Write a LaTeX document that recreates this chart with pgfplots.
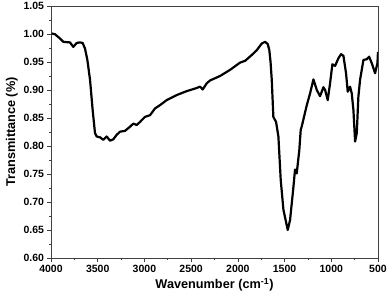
\documentclass[border=0pt]{standalone}
\usepackage{pgfplots}
\pgfplotsset{compat=1.18}
\usepackage{fontspec}
\setmainfont{Liberation Sans}
\begin{document}
\begin{tikzpicture}
\begin{axis}[
  scale only axis,
  width=327pt, height=252pt,
  x dir=reverse,
  xmin=500, xmax=4000,
  ymin=0.60, ymax=1.05,
  xtick={500,1000,...,4000},
  ytick={0.60,0.65,...,1.05},
  minor x tick num=1,
  minor y tick num=1,
  tick align=outside,
  tick pos=left,
  major tick length=3.5pt,
  minor tick length=2pt,
  axis line style={line width=0.6pt, black!75},
  tick style={line width=0.6pt, black!75},
  /pgf/number format/assume math mode=true,
  yticklabel={\pgfmathprintnumber[fixed,fixed zerofill,precision=2]{\tick}},
  xticklabel={\pgfmathprintnumber[fixed,precision=0,1000 sep={}]{\tick}},
  tick label style={font=\fontsize{10.5}{12}\selectfont\bfseries},
  label style={font=\fontsize{12.7}{15}\selectfont\bfseries},
  xlabel={Wavenumber (cm\textsuperscript{-1})},
  ylabel={Transmittance (\%)},
  xlabel style={yshift=1pt},
  ylabel style={yshift=-1pt},
]
\addplot[black, line width=2.2pt, line join=round] coordinates {
(3993,1.001) (3957,0.9995) (3904,0.992) (3868,0.986) (3797,0.985) (3761,0.977)
(3725,0.984) (3690,0.985) (3661,0.984) (3636,0.974) (3611,0.954) (3582,0.918)
(3554,0.864) (3529,0.823) (3511,0.817) (3475,0.8155) (3440,0.811) (3404,0.817)
(3368,0.8095) (3333,0.812) (3297,0.820) (3261,0.8256) (3208,0.827) (3154,0.8345)
(3119,0.840) (3083,0.8375) (3047,0.843) (2994,0.852) (2940,0.855) (2887,0.867)
(2833,0.873) (2761,0.882) (2654,0.891) (2547,0.898) (2450,0.903) (2405,0.906)
(2376,0.901) (2333,0.912) (2298,0.917) (2191,0.925) (2083,0.936) (1976,0.949)
(1923,0.952) (1851,0.9625) (1798,0.971) (1744,0.983) (1709,0.986) (1680,0.982)
(1663,0.971) (1650,0.950) (1637,0.918) (1620,0.852) (1591,0.843) (1566,0.817)
(1541,0.739) (1512,0.686) (1466,0.650) (1441,0.668) (1405,0.727) (1388,0.758)
(1370,0.751) (1342,0.793) (1327,0.829) (1316,0.835) (1262,0.873) (1227,0.894)
(1191,0.919) (1155,0.900) (1120,0.889) (1084,0.905) (1066,0.900) (1038,0.882)
(1013,0.912) (988,0.946) (959,0.943) (924,0.9566) (895,0.964) (870,0.961)
(842,0.930) (824,0.897) (799,0.906) (781,0.894) (763,0.864) (745,0.808)
(727,0.823) (710,0.888) (692,0.918) (656,0.9536) (620,0.955) (595,0.9595)
(567,0.948) (531,0.930) (506,0.948) (500,0.968)
};
\end{axis}
\pgfresetboundingbox
\path[use as bounding box] (-51pt,-40pt) rectangle (338pt,258pt);
\end{tikzpicture}
\end{document}
